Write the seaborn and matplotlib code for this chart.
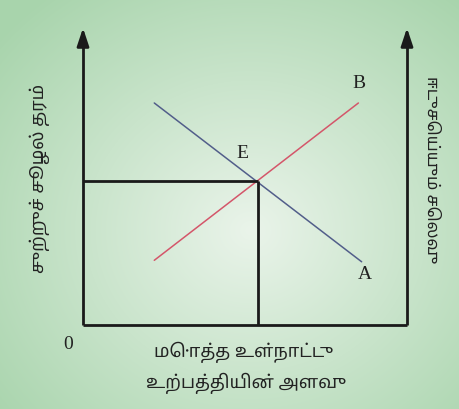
import numpy as np
import pandas as pd
import matplotlib.pyplot as plt
import seaborn as sns

sns.set_theme(style="white")
plt.rcParams["font.family"] = ["Noto Sans Tamil", "DejaVu Sans"]

# Data
demand_x = [2.2, 8.6]
demand_y = [7.55, 2.15]
supply_x = [2.2, 8.5]
supply_y = [2.2, 7.55]
eq_x = 5.4
eq_y = 4.88

y_label = "சுற்றுச் சூழல் தரம்"
right_label = "ஈடுசெய்யும் செலவு"
x_label_1 = "மொத்த உள்நாட்டு"
x_label_2 = "உற்பத்தியின் அளவு"

W, H = 460, 409
fig = plt.figure(figsize=(W / 100, H / 100), dpi=100)

# gradient background
bg = fig.add_axes([0, 0, 1, 1])
yy, xx = np.mgrid[0:H, 0:W]
d = np.sqrt(((xx - 250) / 330) ** 2 + ((yy - 230) / 300) ** 2)
t = np.clip(d, 0, 1)[..., None]
light = np.array([234, 244, 234]) / 255
dark = np.array([168, 212, 172]) / 255
bg.imshow(light * (1 - t) + dark * t, aspect="auto")
bg.axis("off")

ax = fig.add_axes([83 / W, (409 - 325) / H, 324 / W, 297 / H])
ax.set_xlim(0, 10)
ax.set_ylim(0, 10.1)
ax.patch.set_alpha(0)
for s in ax.spines.values():
    s.set_visible(False)
ax.set_xticks([])
ax.set_yticks([])

df = pd.DataFrame({
    "x": demand_x + supply_x,
    "y": demand_y + supply_y,
    "curve": ["A"] * 2 + ["B"] * 2,
})
sns.lineplot(data=df, x="x", y="y", hue="curve",
             palette={"A": "#525e8a", "B": "#d4566a"},
             linewidth=1.1, legend=False, ax=ax, sort=False)
ax.set_xlabel("")
ax.set_ylabel("")

# axis lines with arrows
axis_kw = dict(color="#1a1a1a", linewidth=2.0, solid_capstyle="butt", clip_on=False)
ax.plot([0, 10], [0, 0], **axis_kw)
for xa in (0, 10):
    ax.plot([xa, xa], [0, 9.7], **axis_kw)
    ax.annotate("", xy=(xa, 10.1), xytext=(xa, 9.6),
                arrowprops=dict(arrowstyle="-|>,head_length=0.9,head_width=0.3",
                                color="#1a1a1a", lw=2.0, shrinkA=0, shrinkB=0),
                annotation_clip=False)

# equilibrium guides
ax.plot([0, eq_x], [eq_y, eq_y], **axis_kw)
ax.plot([eq_x, eq_x], [0, eq_y], **axis_kw)

serif = dict(family="Liberation Serif", fontsize=14, color="#222222",
             ha="center", va="center")
ax.annotate("E", (eq_x, eq_y), xytext=(-11.5, 20.5), textcoords="offset points", **serif)
ax.annotate("B", (supply_x[1], supply_y[1]), xytext=(0.5, 14), textcoords="offset points", **serif)
ax.annotate("A", (demand_x[1], demand_y[1]), xytext=(2.5, -9.5), textcoords="offset points", **serif)
ax.annotate("0", (0, 0), xytext=(-11, -14), textcoords="offset points", **serif)

tam = dict(color="#222222", ha="center", va="center")
fig.text(40 / W, 1 - 178 / H, y_label, rotation=90, fontsize=13, **tam)
fig.text(431 / W, 1 - 170 / H, right_label, rotation=270, fontsize=12, **tam)
fig.text(244 / W, 1 - 352 / H, x_label_1, fontsize=13, **tam)
fig.text(246 / W, 1 - 383 / H, x_label_2, fontsize=13, **tam)

fig.savefig("out.png", dpi=100)
